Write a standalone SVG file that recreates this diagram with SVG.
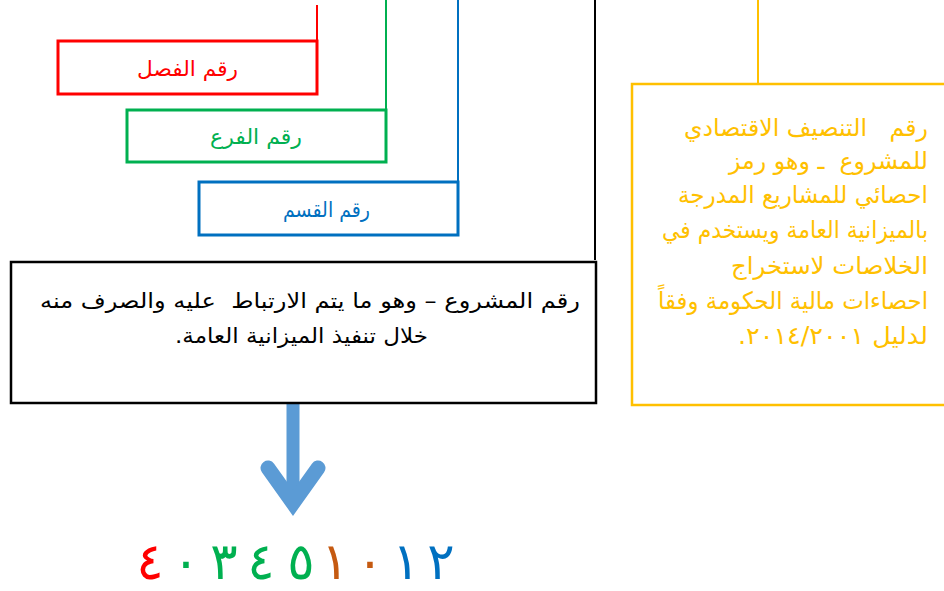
<svg xmlns="http://www.w3.org/2000/svg" width="944" height="591" viewBox="0 0 944 591" xml:space="preserve">
<style>
  .ar { font-family: "DejaVu Sans", "Noto Sans", sans-serif; direction: rtl; unicode-bidi: embed; white-space: pre; }
  .box { fill: none; stroke-width: 3; }
  .ln { fill: none; stroke-width: 2; }
  .dig { font-family: "DejaVu Sans", sans-serif; font-size: 51px; text-anchor: middle; }
</style>
<rect width="944" height="591" fill="#ffffff"/>
<g id="connectors">
  <line class="ln" x1="317" y1="5" x2="317" y2="40" stroke="#FF0000"/>
  <line class="ln" x1="386" y1="0" x2="386" y2="109" stroke="#00B050"/>
  <line class="ln" x1="458" y1="0" x2="458" y2="181" stroke="#0070C0"/>
  <line class="ln" x1="595" y1="0" x2="595" y2="260" stroke="#000000" stroke-width="2.5"/>
  <line class="ln" x1="758" y1="0" x2="758" y2="84" stroke="#FFC000"/>
  <g id="arrow" stroke="#5B9BD5" fill="none">
    <line x1="293" y1="404" x2="293" y2="500" stroke-width="13"/>
    <path d="M268,468 L293,503 L318,468" stroke-width="15" stroke-linecap="round" stroke-linejoin="miter"/>
  </g>
</g>
<g id="node-fasl">
  <rect class="box" x="58" y="41" width="259" height="53" stroke="#FF0000"/>
  <text class="ar" x="238" y="76" font-size="21" text-anchor="start" fill="#FF0000" textLength="101" lengthAdjust="spacingAndGlyphs">رقم الفصل</text>
</g>
<g id="node-far">
  <rect class="box" x="127" y="110" width="259" height="52" stroke="#00B050"/>
  <text class="ar" x="302" y="144" font-size="21" text-anchor="start" fill="#00B050" textLength="92" lengthAdjust="spacingAndGlyphs">رقم الفرع</text>
</g>
<g id="node-qism">
  <rect class="box" x="199" y="182" width="259" height="53" stroke="#0070C0"/>
  <text class="ar" x="370" y="217" font-size="21" text-anchor="start" fill="#0070C0" textLength="87" lengthAdjust="spacingAndGlyphs">رقم القسم</text>
</g>
<g id="node-project">
  <rect x="11" y="262" width="585" height="141" fill="none" stroke="#000000" stroke-width="2.5"/>
  <text class="ar" x="580" y="308" font-size="21" text-anchor="start" fill="#000000" textLength="540" lengthAdjust="spacingAndGlyphs">رقم المشروع – وهو ما يتم الارتباط&#160; عليه والصرف منه</text>
  <text class="ar" x="428" y="343" font-size="21" text-anchor="start" fill="#000000" textLength="253" lengthAdjust="spacingAndGlyphs">خلال تنفيذ الميزانية العامة.</text>
</g>
<g id="node-classification">
  <rect x="632" y="84" width="320" height="321" fill="none" stroke="#FFC000" stroke-width="2.5"/>
  <g class="ar" font-size="24" fill="#FFC000" text-anchor="start">
    <text x="928" y="136" textLength="244" lengthAdjust="spacingAndGlyphs">رقم&#160;&#160; التنصيف الاقتصادي</text>
    <text x="928" y="169" textLength="199" lengthAdjust="spacingAndGlyphs">للمشروع&#160; ـ وهو رمز</text>
    <text x="928" y="203" textLength="250" lengthAdjust="spacingAndGlyphs">احصائي للمشاريع المدرجة</text>
    <text x="928" y="238" textLength="266" lengthAdjust="spacingAndGlyphs">بالميزانية العامة ويستخدم في</text>
    <text x="928" y="274" textLength="197" lengthAdjust="spacingAndGlyphs">الخلاصات لاستخراج</text>
    <text x="928" y="309" textLength="270" lengthAdjust="spacingAndGlyphs">احصاءات مالية الحكومة وفقاً</text>
    <text x="928" y="344" textLength="190" lengthAdjust="spacingAndGlyphs">لدليل ٢٠٠١&#x200F;/٢٠١٤.</text>
  </g>
</g>
<g id="number">
  <text class="dig" x="150" y="579" fill="#FF0000">٤</text>
  <text class="dig" x="186" y="579" fill="#00B050">٠</text>
  <text class="dig" x="224" y="579" fill="#00B050">٣</text>
  <text class="dig" x="261" y="579" fill="#00B050">٤</text>
  <text class="dig" x="301" y="579" fill="#00B050">٥</text>
  <text class="dig" x="335" y="579" fill="#C55A11">١</text>
  <text class="dig" x="370" y="579" fill="#C55A11">٠</text>
  <text class="dig" x="406" y="579" fill="#0070C0">١</text>
  <text class="dig" x="441" y="579" fill="#0070C0">٢</text>
</g>
</svg>
